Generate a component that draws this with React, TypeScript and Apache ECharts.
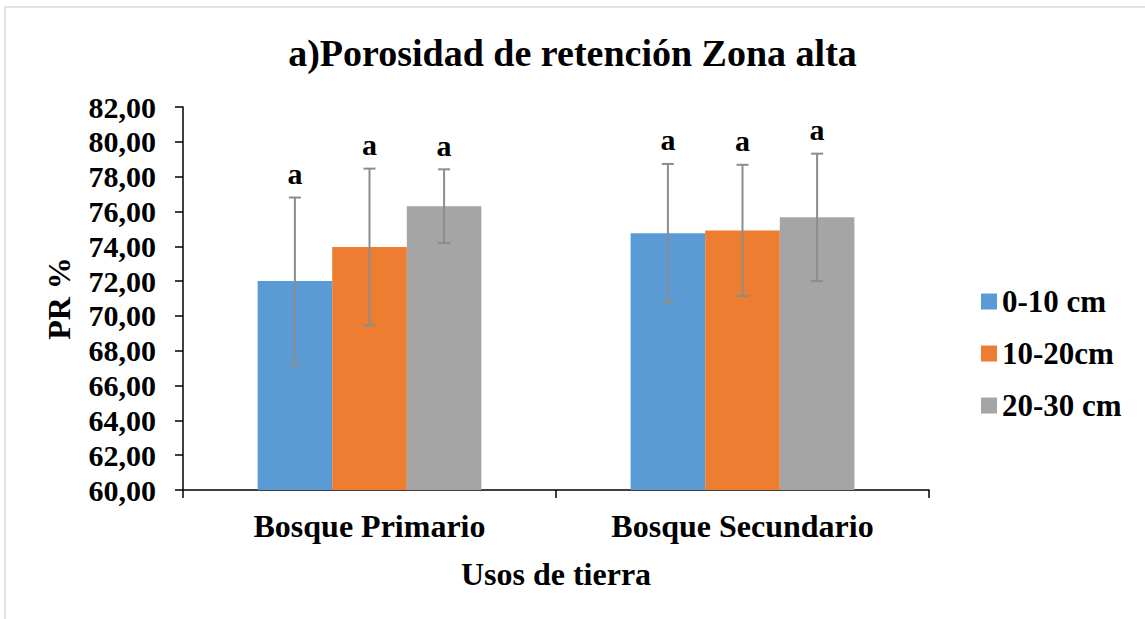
import React, { useEffect, useRef } from "react";
import * as echarts from "echarts";

const categories = ["Bosque Primario", "Bosque Secundario"];
const seriesNames = ["0-10 cm", "10-20cm", "20-30 cm"];
const seriesColors = ["#5B9BD5", "#ED7D31", "#A5A5A5"];
const means0to10 = [72.0, 74.75];
const means10to20 = [73.96, 74.91];
const means20to30 = [76.3, 75.66];
const err0to10 = [4.8, 3.98];
const err10to20 = [4.5, 3.77];
const err20to30 = [2.12, 3.66];
const sigLetters0to10 = ["a", "a"];
const sigLetters10to20 = ["a", "a"];
const sigLetters20to30 = ["a", "a"];
const yTicks = { min: 60, max: 82, interval: 2 };

const FONT = "'Liberation Serif', 'Times New Roman', serif";

export default function App() {
  const ref = useRef<HTMLDivElement>(null);
  useEffect(() => {
    if (!ref.current) return;
    const chart = echarts.init(ref.current, undefined, { renderer: "svg" });
    const means = [means0to10, means10to20, means20to30];
    const errs = [err0to10, err10to20, err20to30];
    const letters = [sigLetters0to10, sigLetters10to20, sigLetters20to30];
    const errData: any[] = [];
    for (let s = 0; s < 3; s++) {
      for (let c = 0; c < categories.length; c++) {
        errData.push({
          value: [c, s, means[s][c] - errs[s][c], means[s][c] + errs[s][c]],
          letter: letters[s][c],
        });
      }
    }
    const option: any = {
      animation: false,
      backgroundColor: "#fff",
      title: {
        text: "a)Porosidad de retención Zona alta",
        left: "center",
        top: 29,
        textStyle: { fontFamily: FONT, fontWeight: "bold", fontSize: 38, color: "#000" },
      },
      graphic: [
        {
          type: "rect",
          shape: { x: 5, y: 7, width: 1300, height: 800 },
          style: { fill: "none", stroke: "#D9D9D9", lineWidth: 1.5 },
          z: -10,
        },
      ],
      legend: {
        orient: "vertical",
        left: 976,
        top: 281,
        itemWidth: 16,
        itemHeight: 16,
        itemGap: 21,
        icon: "rect",
        data: seriesNames,
        textStyle: { fontFamily: FONT, fontWeight: "bold", fontSize: 31, color: "#000" },
      },
      grid: { left: 183, right: 216, top: 107, bottom: 129, containLabel: false },
      xAxis: {
        type: "category",
        data: categories,
        name: "Usos de tierra",
        nameLocation: "middle",
        nameGap: 68,
        nameTextStyle: { fontFamily: FONT, fontWeight: "bold", fontSize: 32, color: "#000" },
        axisLine: { lineStyle: { color: "#000", width: 1.5 } },
        axisTick: { show: true, length: 8, lineStyle: { color: "#000", width: 1.5 } },
        axisLabel: { fontFamily: FONT, fontWeight: "bold", fontSize: 32, color: "#000", margin: 20 },
      },
      yAxis: {
        type: "value",
        min: yTicks.min,
        max: yTicks.max,
        interval: yTicks.interval,
        name: "PR %",
        nameLocation: "middle",
        nameGap: 108,
        nameTextStyle: { fontFamily: FONT, fontWeight: "bold", fontSize: 32, color: "#000" },
        axisLine: { show: true, lineStyle: { color: "#000", width: 1.5 } },
        axisTick: { show: true, length: 8, lineStyle: { color: "#000", width: 1.5 } },
        splitLine: { show: false },
        axisLabel: {
          fontFamily: FONT,
          fontWeight: "bold",
          fontSize: 30,
          color: "#000",
          margin: 27,
          formatter: (v: number) => v.toFixed(2).replace(".", ","),
        },
      },
      series: [
        ...seriesNames.map((name, i) => ({
          name,
          type: "bar",
          data: means[i],
          barGap: "0%",
          barCategoryGap: "40%",
          itemStyle: { color: seriesColors[i] },
          z: 2,
        })),
        {
          type: "custom",
          name: "err",
          z: 5,
          data: errData,
          encode: { x: 0, y: [2, 3] },
          renderItem: (params: any, api: any) => {
            const c = api.value(0);
            const s = api.value(1);
            const lo = api.value(2);
            const hi = api.value(3);
            const band = api.size([1, 0])[0];
            const x = api.coord([c, lo])[0] + (s - 1) * band * 0.2;
            const yLo = api.coord([c, lo])[1];
            const yHi = api.coord([c, hi])[1];
            const cap = 6;
            const st = { stroke: "#8C8C8C", lineWidth: 2 };
            const letter = errData[params.dataIndex].letter;
            return {
              type: "group",
              children: [
                { type: "line", shape: { x1: x, y1: yLo, x2: x, y2: yHi }, style: st },
                { type: "line", shape: { x1: x - cap, y1: yLo, x2: x + cap, y2: yLo }, style: st },
                { type: "line", shape: { x1: x - cap, y1: yHi, x2: x + cap, y2: yHi }, style: st },
                {
                  type: "text",
                  x: x,
                  y: yHi - 24,
                  style: {
                    text: letter,
                    fontFamily: FONT,
                    fontWeight: "bold",
                    fontSize: 30,
                    fill: "#000",
                    align: "center",
                    verticalAlign: "middle",
                  },
                },
              ],
            };
          },
        },
      ],
    };
    chart.setOption(option);
    return () => chart.dispose();
  }, []);
  return (
    <div
      ref={ref}
      style={{ position: "absolute", left: 0, top: 0, width: 1145, height: 619 }}
    />
  );
}
